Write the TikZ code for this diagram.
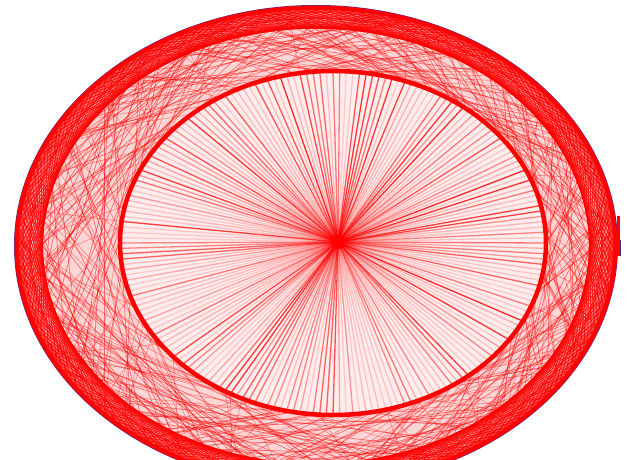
\documentclass[tikz,border=0pt]{standalone}
\usepackage{tikz}

\definecolor{rimblue}{RGB}{80,40,150}

\begin{document}
\begin{tikzpicture}[
    x=1pt, y=-1pt,
    chord/.style={draw=red, line width=0.7pt, draw opacity=#1},
    chord/.default=0.3,
    spoke/.style={draw=red, line width=1.3pt, draw opacity=#1},
    spoke/.default=0.3,
]
\pgfmathsetseed{2718}
\useasboundingbox (0,0) rectangle (627,460);
\clip (0,0) rectangle (627,460);
% Nodes
\coordinate (hub) at (338,242);
\foreach \i in {0,...,199}{
  \coordinate (o\i) at ({316+300*cos(1.8*\i)},{246+239*sin(1.8*\i)});
  \coordinate (n\i) at ({333+213*cos(1.8*\i)},{243+172*sin(1.8*\i)});
}
% Background tint
\fill[red!16] (316,246) ellipse [x radius=300, y radius=239];
% Outer band - chords of fixed span
\foreach \k/\op in {2/0.6, 5/0.3, 9/0.25, 14/0.25, 20/0.3}
  \foreach \i in {0,...,199}{
    \pgfmathtruncatemacro{\j}{mod(\i+\k,200)}
    \draw[chord=\op] (o\i) -- (o\j);
  }
\foreach \i in {0,...,199}{
  \pgfmathtruncatemacro{\j}{mod(\i+27,200)}
  \draw[chord=0.75, line width=1pt] (o\i) -- (o\j);
}
% Longer chords - hatched zone
\foreach \i in {0,...,199}{
  \pgfmathrandominteger{\d}{30}{58}
  \pgfmathtruncatemacro{\j}{mod(\i+\d,200)}
  \draw[chord=0.5] (o\i) -- (o\j);
  \pgfmathrandominteger{\d}{-36}{36}
  \pgfmathtruncatemacro{\j}{mod(\i+\d+200,200)}
  \draw[chord=0.35] (o\i) -- (n\j);
}
% Inner disc covers the chords
\fill[red!7] (333,243) ellipse [x radius=213, y radius=172];
% Spokes
\foreach \i in {0,...,199}{
  \pgfmathsetmacro{\op}{0.15+0.7*rnd^2}
  \draw[spoke=\op] (hub) -- (n\i);
}
% Inner ring
\foreach \i in {0,...,199}{
  \pgfmathtruncatemacro{\j}{mod(\i+4,200)}
  \draw[chord=0.5] (n\i) -- (n\j);
}
\draw[red, line width=4.5pt] (333,243) ellipse [x radius=213, y radius=172];
\fill[red] (hub) circle [radius=7];
% Outer rim
\draw[rimblue, line width=1pt] (316,246) ellipse [x radius=301.5, y radius=240.5];
\draw[red, line width=4pt] (316,246) ellipse [x radius=299.5, y radius=238.5];
\fill[red] (617,216) rectangle (620,256);
\draw[rimblue, line width=0.8pt] (620.5,240) -- (620.5,256);
\end{tikzpicture}
\end{document}
